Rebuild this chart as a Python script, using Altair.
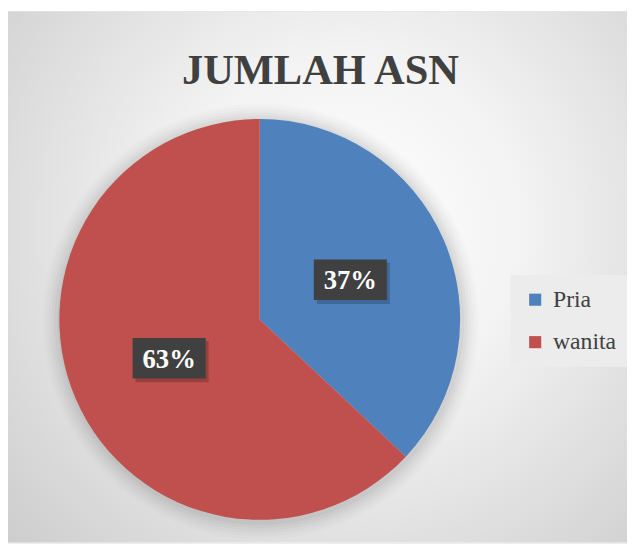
import altair as alt
import pandas as pd

# ---- data ----
categories = ["Pria", "wanita"]
values = [37, 63]
labels = ["37%", "63%"]
order = [0, 1]
colors = ["#4F81BD", "#C0504D"]
title_text = ["JUMLAH ASN"]

df = pd.DataFrame({"kategori": categories, "nilai": values, "label": labels, "urutan": order})

W, H = 627, 538
CX, CY = 255, 312
R = 203
LR = 100
SERIF = "Liberation Serif"

one = pd.DataFrame({"a": [0]})

# background radial gradient
bg = alt.Chart(one).mark_rect(
    fill=alt.RadialGradient(
        gradient="radial",
        stops=[alt.GradientStop(color="#ffffff", offset=0),
               alt.GradientStop(color="#f3f3f3", offset=0.35),
               alt.GradientStop(color="#c9c9c9", offset=1)],
        x1=0.55, y1=0.42, x2=0.55, y2=0.42, r1=0, r2=0.8),
).encode(x=alt.value(0), x2=alt.value(W), y=alt.value(0), y2=alt.value(H))

# soft shadow halo around pie
halo_layers = []
for dr, op in [(18, 0.012), (15, 0.015), (12, 0.018), (9, 0.022), (6, 0.026), (3, 0.03)]:
    halo_layers.append(
        alt.Chart(one).mark_arc(theta=0, theta2=6.2832, outerRadius=R + dr,
                                color="#000000", opacity=op)
        .encode(x=alt.value(CX + 1), y=alt.value(CY + 2))
    )

title = alt.Chart(pd.DataFrame({"t": title_text})).mark_text(
    font=SERIF, fontSize=43, fontWeight="bold", color="#404040",
    align="center", baseline="alphabetic",
).encode(text="t:N", x=alt.value(W / 2 + 3), y=alt.value(74))

base = alt.Chart(df)

pie = base.mark_arc(outerRadius=R).encode(
    theta=alt.Theta("nilai:Q", stack=True),
    color=alt.Color(
        "kategori:N",
        scale=alt.Scale(domain=categories, range=colors),
        legend=alt.Legend(
            title=None, orient="none", legendX=509, legendY=267,
            padding=13, fillColor="#ececec",
            symbolType="square", symbolSize=150, symbolStrokeWidth=0,
            symbolOpacity=1, labelFont=SERIF, labelFontSize=24,
            labelColor="#404040", labelOffset=6, rowPadding=19,
        ),
    ),
    order=alt.Order("urutan:Q"),
    x=alt.value(CX), y=alt.value(CY),
)

boxes_base = base.transform_joinaggregate(
    total="sum(nilai)"
).transform_window(
    cum="sum(nilai)", sort=[alt.SortField("urutan")]
).transform_calculate(
    ang="2*PI*(datum.cum - datum.nilai/2)/datum.total"
).transform_calculate(
    bx=f"{CX} + {LR}*sin(datum.ang)",
    by=f"{CY} - {LR}*cos(datum.ang)",
).transform_calculate(
    x0="datum.bx - 37", x1="datum.bx + 37",
    y0="datum.by - 21", y1="datum.by + 20",
    sx0="datum.bx - 34", sx1="datum.bx + 40",
    sy0="datum.by - 18", sy1="datum.by + 24",
)

shadow = boxes_base.mark_rect(color="#000000", opacity=0.2).encode(
    x=alt.X("sx0:Q", scale=None, axis=None), x2="sx1:Q",
    y=alt.Y("sy0:Q", scale=None, axis=None), y2="sy1:Q",
)
boxes = boxes_base.mark_rect(color="#404040").encode(
    x=alt.X("x0:Q", scale=None, axis=None), x2="x1:Q",
    y=alt.Y("y0:Q", scale=None, axis=None), y2="y1:Q",
)

text = base.mark_text(
    radius=LR, font=SERIF, fontSize=27, fontWeight="bold", color="#ffffff",
    baseline="middle", align="center", dy=1,
).encode(
    theta=alt.Theta("nilai:Q", stack=True),
    text="label:N",
    detail="kategori:N",
    order=alt.Order("urutan:Q"),
    x=alt.value(CX), y=alt.value(CY),
)

chart = alt.layer(bg, *halo_layers, title, pie, shadow, boxes, text).properties(
    width=W, height=H,
    padding=0,
    autosize=alt.AutoSizeParams(type="none"),
).configure_view(stroke=None).configure(background="#ffffff")

chart.save("out.html", embed_options={"renderer": "svg", "actions": False})
